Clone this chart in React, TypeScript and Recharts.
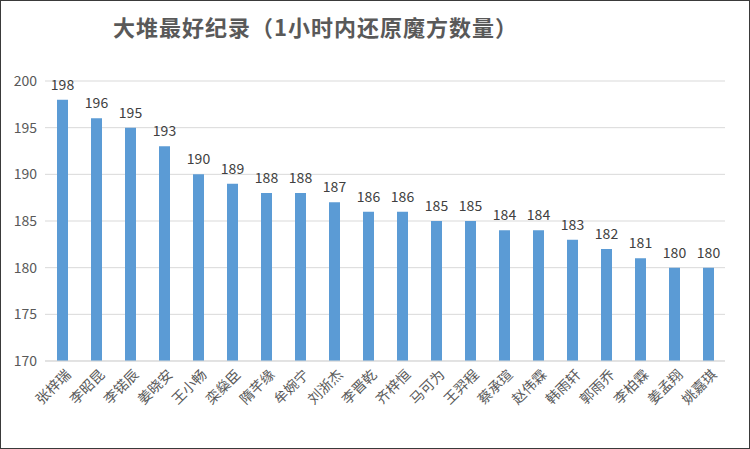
import { BarChart, Bar, XAxis, YAxis, CartesianGrid, LabelList } from 'recharts';

const names = [
    '张梓瑞', '李昭昆', '李锘辰', '姜晓安', '王小畅', '栾燊臣', '隋芊缘', '牟婉宁', '刘浙杰', '李晋乾',
    '齐梓恒', '马可为', '王羿程', '蔡承瑄', '赵伟霖', '韩雨轩', '郭雨乔', '李柏霖', '姜孟翔', '姚嘉琪',
];
const scores = [198, 196, 195, 193, 190, 189, 188, 188, 187, 186, 186, 185, 185, 184, 184, 183, 182, 181, 180, 180];
const yTicks = [170, 175, 180, 185, 190, 195, 200];

const data = names.map((name, i) => ({ name, value: scores[i] }));

const fontCJK = '"Noto Sans CJK SC", "Noto Sans", sans-serif';

function NameTick({ x, y, payload }: any) {
    return (
        <g transform={`translate(${x + 6},${y + 3})`}>
            <text
                textAnchor="end"
                transform="rotate(-45)"
                fontSize={14}
                fill="#595959"
                fontFamily={fontCJK}
                dy={5}
            >
                {payload.value}
            </text>
        </g>
    );
}

export default function App() {
    return (
        <div
            style={{
                position: 'absolute',
                left: 0,
                top: 0,
                width: 750,
                height: 449,
                boxSizing: 'border-box',
                border: '1px solid #3a3a3a',
                background: '#fff',
                fontFamily: fontCJK,
            }}
        >
            <div
                style={{
                    position: 'absolute',
                    left: 112,
                    top: 9,
                    fontSize: 22,
                    fontWeight: 600,
                    color: '#595959',
                    letterSpacing: 1,
                }}
            >
                大堆最好纪录（1小时内还原魔方数量）
            </div>
            <BarChart
                width={748}
                height={447}
                data={data}
                margin={{ top: 80, right: 24, bottom: 0, left: 4 }}
            >
                <CartesianGrid vertical={false} stroke="#d9d9d9" />
                <XAxis
                    dataKey="name"
                    interval={0}
                    tickLine={false}
                    axisLine={{ stroke: '#d9d9d9' }}
                    tick={<NameTick />}
                    height={87}
                />
                <YAxis
                    domain={[170, 200]}
                    ticks={yTicks}
                    width={40}
                    tickLine={false}
                    axisLine={false}
                    tick={{ fill: '#595959', fontSize: 14, fontFamily: fontCJK }}
                />
                <Bar dataKey="value" fill="#5b9bd5" barSize={11} isAnimationActive={false}>
                    <LabelList dataKey="value" position="top" offset={10} fill="#404040" fontSize={14} fontFamily={fontCJK} />
                </Bar>
            </BarChart>
        </div>
    );
}
